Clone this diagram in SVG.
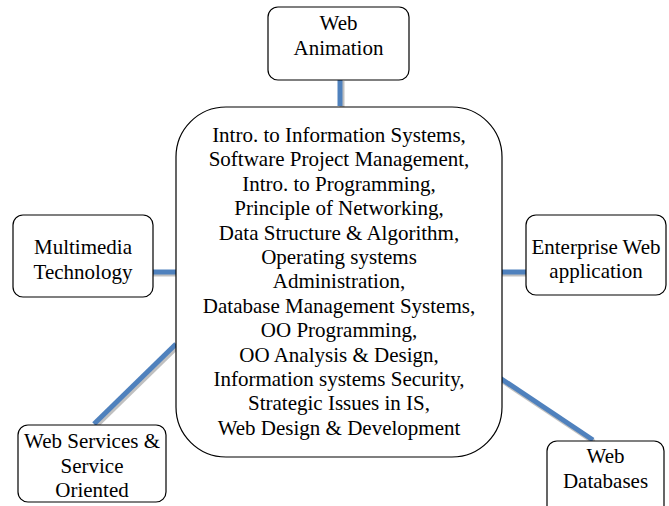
<svg xmlns="http://www.w3.org/2000/svg" width="669" height="506" viewBox="0 0 669 506">
<style>
.box{fill:#fff;stroke:#000;stroke-width:1.2}
.sh{stroke:#c0c0c0;stroke-width:5;fill:none}
.ln{stroke:#4f81bd;stroke-width:5;fill:none}
</style>
<rect width="669" height="506" fill="#fff"/>
<g id="connectors">
<line class="sh" x1="342" y1="81" x2="342" y2="107"/>
<line class="ln" x1="340" y1="80" x2="340" y2="106"/>
<line class="sh" x1="153" y1="274" x2="176" y2="274"/>
<line class="ln" x1="153" y1="272" x2="176" y2="272"/>
<line class="sh" x1="502" y1="274" x2="526" y2="274"/>
<line class="ln" x1="502" y1="272" x2="526" y2="272"/>
<line class="sh" x1="178" y1="346" x2="96" y2="426"/>
<line class="ln" x1="176" y1="344" x2="94" y2="424"/>
<line class="sh" x1="501" y1="380" x2="594" y2="442"/>
<line class="ln" x1="500" y1="378" x2="593" y2="440"/>
</g>
<g font-family="Liberation Serif, Times New Roman, serif" font-size="21" fill="#000" text-anchor="middle">
<g id="center">
<rect class="box" x="176" y="107" width="326" height="350" rx="50" ry="50"/>
<text x="339" y="142">Intro. to Information Systems,</text>
<text x="339" y="166.4">Software Project Management,</text>
<text x="339" y="190.8">Intro. to Programming,</text>
<text x="339" y="215.2">Principle of Networking,</text>
<text x="339" y="239.6">Data Structure &amp; Algorithm,</text>
<text x="339" y="264">Operating systems</text>
<text x="339" y="288.4">Administration,</text>
<text x="339" y="312.8">Database Management Systems,</text>
<text x="339" y="337.2">OO Programming,</text>
<text x="339" y="361.6">OO Analysis &amp; Design,</text>
<text x="339" y="386">Information systems Security,</text>
<text x="339" y="410.4">Strategic Issues in IS,</text>
<text x="339" y="434.8">Web Design &amp; Development</text>
</g>
<g id="web-animation">
<rect class="box" x="268" y="7" width="141" height="73" rx="10" ry="10"/>
<text x="338.5" y="30">Web</text>
<text x="338.5" y="55">Animation</text>
</g>
<g id="multimedia">
<rect class="box" x="13" y="215" width="140" height="82" rx="10" ry="10"/>
<text x="83" y="254">Multimedia</text>
<text x="83" y="279">Technology</text>
</g>
<g id="enterprise">
<rect class="box" x="526" y="215" width="140" height="80" rx="10" ry="10"/>
<text x="596" y="254">Enterprise Web</text>
<text x="596" y="278">application</text>
</g>
<g id="web-services">
<rect class="box" x="18" y="425" width="148" height="77" rx="10" ry="10"/>
<text x="92" y="448">Web Services &amp;</text>
<text x="92" y="473">Service</text>
<text x="92" y="497">Oriented</text>
</g>
<g id="web-databases">
<rect class="box" x="547" y="441" width="117" height="75" rx="10" ry="10"/>
<text x="605.5" y="463">Web</text>
<text x="605.5" y="488">Databases</text>
</g>
</g>
</svg>
